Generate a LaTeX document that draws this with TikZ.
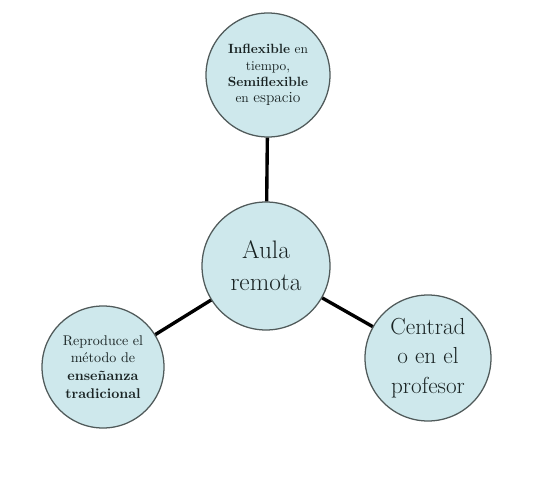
\documentclass[tikz,border=0pt]{standalone}
\definecolor{aguaclara}{RGB}{206,232,236}
\definecolor{borde}{RGB}{80,90,90}
\definecolor{tinta}{RGB}{25,35,35}
\begin{document}
\begin{tikzpicture}[
        burbuja/.style = {circle, draw = borde, line width = 0.9pt, fill = aguaclara, text = tinta, inner sep = 0pt, align = center},
        enlace/.style = {black, line width = 2.4pt}]
        \useasboundingbox (0 cm, 0 cm) rectangle (13.475 cm, 12 cm);

        \node[burbuja, minimum size = 3.1 cm, font = \fontsize{9.5}{11.6}\selectfont] (tiempo) at (6.7 cm, 10.125 cm)
            {\textbf{Inflexible} en\\ tiempo,\\ \textbf{Semiflexible}\\ en {\fontsize{11}{11.6}\selectfont espacio}};
        \node[burbuja, minimum size = 3.2 cm, font = \fontsize{18}{22.7}\selectfont] (aula) at (6.65 cm, 5.35 cm)
            {Aula\\ remota};
        \node[burbuja, minimum size = 3.15 cm, font = \fontsize{16.5}{21}\selectfont] (profesor) at (10.7 cm, 3.05 cm)
            {Centrad\\ o en el\\ profesor};
        \node[burbuja, minimum size = 3.05 cm, font = \fontsize{10}{12.6}\selectfont] (metodo) at (2.575 cm, 2.825 cm)
            {Reproduce el\\ método de\\ \textbf{enseñanza}\\ \textbf{tradicional}};

        \draw[enlace] (tiempo) -- (aula);
        \draw[enlace] (aula) -- (profesor);
        \draw[enlace] (aula) -- (metodo);
    \end{tikzpicture}
\end{document}
